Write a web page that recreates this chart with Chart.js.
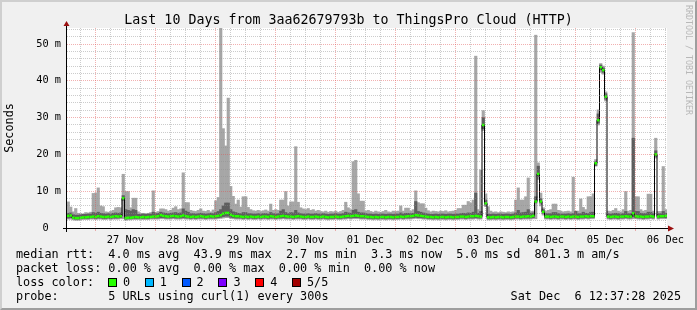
<!DOCTYPE html>
<html>
<head>
<meta charset="utf-8">
<title>Last 10 Days from 3aa62679793b to ThingsPro Cloud (HTTP)</title>
<script src="https://cdn.jsdelivr.net/npm/chart.js@4.4.1/dist/chart.umd.min.js"></script>
<style>
  html, body { margin: 0; padding: 0; background: #f0f0f0; }
  #wrap { position: relative; width: 697px; height: 310px; background: #f0f0f0; overflow: hidden;
          font-family: "DejaVu Sans Mono", monospace; color: #000; }
  #chart { position: absolute; left: 0; top: 0; }
  #frame { position: absolute; left: 0; top: 0; width: 697px; height: 310px; box-sizing: border-box;
           border: 2px solid; border-color: #cfcfcf #9e9e9e #9e9e9e #cfcfcf; pointer-events: none; }
  #title { position: absolute; left: 0; top: 12px; width: 697px; text-align: center;
           font-size: 13.3px; line-height: 16px; white-space: pre; }
  #credit { position: absolute; left: 684px; top: 5px; writing-mode: vertical-rl;
            font-size: 8.3px; line-height: 10px; color: #b8b8b8; white-space: pre; }
  #legend { position: absolute; left: 16px; top: 247px; font-size: 11.8px; line-height: 14px; white-space: pre; }
  #legend .row { position: relative; height: 14px; }
  #legend .box { position: absolute; top: 3px; width: 7px; height: 7px; border: 1px solid #000; }
  #legend .lab { position: absolute; top: 0; }
  #stamp { position: absolute; right: 16px; top: 289px; font-size: 11.8px; line-height: 14px; white-space: pre; }
</style>
</head>
<body>
<div id="wrap">
  <canvas id="chart" width="697" height="310"></canvas>
  <div id="title"></div>
  <div id="credit"></div>
  <div id="legend"></div>
  <div id="stamp"></div>
  <div id="frame"></div>
</div>
<script>
// x axis = hours after 26 Nov 00:00, one bin per hour, last bin ends at "now" (06 Dec 12:37)
const START = 12.625
const END = 252.625

const dayLabels = ['27 Nov', '28 Nov', '29 Nov', '30 Nov', '01 Dec', '02 Dec', '03 Dec', '04 Dec', '05 Dec', '06 Dec']
const yLabels = ['0  ', '10 m', '20 m', '30 m', '40 m', '50 m']

// smoke (ms), one value per hour, 24 per row
const smokeHi = [
  7.1,5.7,4.4,5.3,4.0,3.9,3.8,4.2,4.1,4.3,9.4,9.5,10.9,6.0,5.8,4.4,4.3,4.5,4.8,5.5,5.6,5.5,14.6,9.9,
  9.9,5.5,8.1,8.1,4.4,4.0,4.0,3.9,4.0,4.2,10.1,4.3,4.5,5.2,5.2,5.0,4.6,4.8,5.4,5.8,5.0,5.2,15.0,6.9,
  6.9,4.8,4.6,4.5,4.8,5.2,4.6,4.5,4.8,4.4,4.9,7.4,8.3,54.5,27.0,22.3,35.3,11.3,8.6,6.5,7.6,5.7,8.5,8.5,
  5.6,5.0,4.7,4.6,4.8,4.5,4.7,4.9,4.6,6.5,4.8,5.0,4.8,7.6,7.6,9.9,6.0,7.1,7.1,22.1,7.0,5.5,5.2,5.0,
  5.3,4.8,5.0,4.6,4.8,4.5,4.4,4.6,4.3,4.5,4.4,4.6,4.3,4.5,4.8,7.0,5.5,5.0,18.0,18.4,9.3,7.3,7.3,4.6,
  4.8,4.5,4.3,4.6,4.4,4.3,4.5,4.8,4.4,4.3,4.6,4.5,4.6,6.0,4.6,5.4,5.4,4.6,5.0,10.1,6.9,6.6,6.6,5.4,
  4.7,4.4,4.6,4.5,4.4,4.6,4.5,4.7,4.4,4.5,4.6,4.8,5.3,5.3,6.2,6.2,7.2,6.8,7.6,46.7,5.0,15.8,31.9,9.3,
  5.8,4.6,4.3,4.4,4.2,4.4,4.3,4.2,4.4,4.3,4.4,7.6,10.9,7.6,7.6,8.5,13.6,4.5,4.6,52.4,17.7,9.5,5.5,4.5,
  4.8,5.0,6.5,6.5,4.8,4.6,4.4,4.5,4.6,4.4,13.8,4.6,4.6,7.9,5.6,5.0,8.5,8.5,9.3,18.6,32.1,44.7,44.0,37.0,
  4.6,4.5,4.8,5.3,4.6,4.4,5.0,9.9,4.6,4.8,53.1,8.5,8.5,5.0,4.6,4.8,9.2,9.2,4.6,24.4,4.5,4.5,16.7,5.0
]
const smokeLo = [
  2.4,2.4,2.2,2.1,2.1,2.2,2.3,2.3,2.3,2.4,2.4,2.3,2.4,2.4,2.3,2.3,2.4,2.3,2.4,2.4,2.4,2.5,2.5,2.1,
  2.2,2.2,2.3,2.3,2.3,2.3,2.3,2.3,2.3,2.4,2.4,2.4,2.4,2.5,2.5,2.4,2.4,2.4,2.5,2.4,2.4,2.4,2.5,2.4,
  2.4,2.3,2.4,2.3,2.4,2.4,2.4,2.3,2.4,2.4,2.4,2.4,2.5,2.6,2.7,2.8,2.8,2.6,2.5,2.4,2.4,2.4,2.3,2.4,
  2.3,2.4,2.3,2.3,2.4,2.3,2.4,2.4,2.3,2.4,2.4,2.3,2.4,2.4,2.5,2.4,2.4,2.4,2.3,2.4,2.4,2.4,2.3,2.3,
  2.4,2.3,2.3,2.4,2.3,2.3,2.4,2.3,2.2,2.3,2.3,2.4,2.3,2.3,2.4,2.4,2.5,2.4,2.5,2.5,2.5,2.4,2.4,2.4,
  2.3,2.3,2.2,2.3,2.2,2.3,2.3,2.2,2.3,2.3,2.2,2.3,2.3,2.4,2.3,2.4,2.4,2.4,2.5,2.6,2.5,2.5,2.4,2.4,
  2.3,2.3,2.2,2.3,2.2,2.3,2.3,2.2,2.3,2.3,2.2,2.3,2.3,2.4,2.4,2.3,2.4,2.4,2.4,2.5,2.4,2.4,26.5,5.8,
  2.2,2.2,2.3,2.2,2.3,2.3,2.2,2.3,2.3,2.2,2.3,2.4,2.4,2.3,2.4,2.4,2.4,2.4,2.5,2.5,13.2,6.0,3.5,2.4,
  2.4,2.3,2.4,2.4,2.3,2.4,2.4,2.3,2.4,2.3,2.4,2.4,2.3,2.4,2.4,2.5,2.4,2.5,2.5,16.8,28.0,42.3,41.8,34.5,
  2.4,2.3,2.4,2.4,2.3,2.4,2.4,2.5,2.4,2.4,2.5,2.5,2.4,2.4,2.3,2.4,2.4,2.5,2.4,19.0,2.4,2.5,2.5,2.5
]
const darkHi = [
  4.0,4.1,3.6,3.5,3.5,3.6,3.7,3.7,3.8,3.8,4.2,4.0,4.3,4.0,3.9,3.8,3.9,3.8,4.0,4.1,4.0,4.1,8.8,5.0,
  4.8,4.6,5.0,4.8,3.7,3.7,3.8,3.7,3.8,3.8,4.3,3.9,4.0,4.3,4.1,4.0,3.9,4.0,4.1,4.2,4.0,4.1,5.2,4.6,
  4.3,3.9,3.9,3.8,3.9,4.0,3.9,3.8,3.9,4.0,3.9,4.2,4.5,5.0,6.0,6.8,6.8,5.0,4.4,4.2,4.0,3.9,4.2,4.2,
  3.9,3.9,3.8,3.8,3.9,3.8,3.9,3.9,3.8,4.2,3.9,3.8,3.9,4.6,5.0,4.2,3.9,4.2,4.1,4.8,4.1,3.9,3.8,3.8,
  3.9,3.8,3.8,3.9,3.8,3.8,3.9,3.8,3.7,3.8,3.8,3.9,3.8,3.8,3.9,4.3,4.1,4.0,4.8,5.0,4.3,4.1,4.1,3.9,
  3.8,3.8,3.7,3.8,3.7,3.8,3.8,3.7,3.8,3.8,3.7,3.8,3.8,4.1,3.8,4.0,4.0,3.9,4.0,7.2,4.5,4.3,4.1,3.9,
  3.8,3.7,3.7,3.8,3.7,3.8,3.8,3.7,3.8,3.8,3.7,3.8,3.8,3.9,4.0,3.9,4.1,4.0,4.3,9.5,4.0,4.5,30.0,7.6,
  3.8,3.7,3.8,3.7,3.8,3.8,3.7,3.8,3.8,3.7,3.8,4.1,4.8,4.1,4.2,4.3,5.0,4.0,4.1,8.5,16.8,8.0,5.0,3.9,
  3.9,3.9,4.2,4.2,3.9,3.8,3.8,3.8,3.9,3.8,3.9,4.5,3.9,3.9,4.3,4.0,3.9,4.3,4.3,18.0,31.0,44.3,43.5,36.5,
  3.9,3.8,3.9,4.0,3.9,3.8,3.9,4.5,3.9,3.9,24.4,4.5,4.5,4.0,3.9,3.9,4.3,4.3,3.9,21.0,3.9,3.9,4.5,4.0
]
const darkLo = [
  2.7,2.8,2.5,2.4,2.4,2.5,2.6,2.6,2.6,2.7,2.7,2.6,2.7,2.7,2.6,2.6,2.7,2.6,2.7,2.7,2.7,2.8,7.5,2.4,
  2.5,2.5,2.6,2.6,2.6,2.6,2.6,2.6,2.6,2.7,2.7,2.7,2.7,2.8,2.8,2.7,2.7,2.7,2.8,2.7,2.7,2.7,2.8,2.7,
  2.7,2.6,2.7,2.6,2.7,2.7,2.7,2.6,2.7,2.7,2.7,2.7,2.8,2.9,3.1,3.2,3.2,2.9,2.8,2.7,2.7,2.7,2.6,2.7,
  2.6,2.7,2.6,2.6,2.7,2.6,2.7,2.7,2.6,2.7,2.7,2.6,2.7,2.7,2.8,2.7,2.7,2.7,2.6,2.7,2.7,2.7,2.6,2.6,
  2.7,2.6,2.6,2.7,2.6,2.6,2.7,2.6,2.5,2.6,2.6,2.7,2.6,2.6,2.7,2.7,2.8,2.7,2.8,2.8,2.8,2.7,2.7,2.7,
  2.6,2.6,2.5,2.6,2.5,2.6,2.6,2.5,2.6,2.6,2.5,2.6,2.6,2.7,2.6,2.7,2.7,2.7,2.8,2.9,2.8,2.8,2.7,2.7,
  2.6,2.6,2.5,2.6,2.5,2.6,2.6,2.5,2.6,2.6,2.5,2.6,2.6,2.7,2.7,2.6,2.7,2.7,2.7,2.8,2.7,2.7,27.0,6.2,
  2.5,2.5,2.6,2.5,2.6,2.6,2.5,2.6,2.6,2.5,2.6,2.7,2.7,2.6,2.7,2.7,2.7,2.7,2.8,6.8,14.0,6.8,4.0,2.7,
  2.7,2.6,2.7,2.7,2.6,2.7,2.7,2.6,2.7,2.6,2.7,2.7,2.6,2.7,2.7,2.8,2.7,2.8,2.8,17.0,28.5,43.0,42.3,35.0,
  2.7,2.6,2.7,2.7,2.6,2.7,2.7,2.8,2.7,2.7,3.0,2.8,2.7,2.7,2.6,2.7,2.7,2.8,2.7,19.5,2.7,2.8,2.8,2.8
]
const median = [
  3.3,3.4,2.8,2.7,2.7,2.8,2.9,2.9,3.0,3.0,3.1,3.0,3.2,3.1,3.0,3.0,3.1,3.0,3.1,3.2,3.1,3.2,8.1,2.7,
  2.8,2.8,2.9,3.0,2.9,2.9,3.0,2.9,3.0,3.0,3.1,3.1,3.2,3.5,3.3,3.2,3.1,3.2,3.3,3.2,3.1,3.2,3.4,3.2,
  3.1,3.0,3.1,3.0,3.1,3.2,3.1,3.0,3.1,3.2,3.1,3.2,3.3,3.5,3.9,4.1,4.1,3.6,3.3,3.2,3.2,3.1,3.0,3.1,
  3.0,3.1,3.0,3.0,3.1,3.0,3.1,3.1,3.0,3.2,3.1,3.0,3.1,3.2,3.3,3.2,3.1,3.1,3.0,3.1,3.2,3.1,3.0,3.0,
  3.1,3.0,3.0,3.1,3.0,3.0,3.1,3.0,2.9,3.0,3.0,3.1,3.0,3.0,3.1,3.2,3.3,3.2,3.3,3.4,3.3,3.2,3.2,3.1,
  3.0,3.0,2.9,3.0,2.9,3.0,3.0,2.9,3.0,3.0,2.9,3.0,3.0,3.1,3.0,3.1,3.2,3.2,3.3,3.5,3.4,3.3,3.2,3.1,
  3.0,3.0,2.9,3.0,2.9,3.0,3.0,2.9,3.0,3.0,2.9,3.0,3.0,3.1,3.1,3.0,3.1,3.2,3.2,3.3,3.2,3.1,28.0,6.7,
  2.9,2.9,3.0,2.9,3.0,3.0,2.9,3.0,3.0,2.9,3.0,3.1,3.1,3.0,3.1,3.1,3.2,3.1,3.3,7.2,14.7,7.2,4.4,3.1,
  3.1,3.0,3.1,3.1,3.0,3.1,3.1,3.0,3.1,3.0,3.1,3.1,3.0,3.1,3.1,3.2,3.1,3.2,3.2,17.6,29.3,43.7,42.9,35.7,
  3.1,3.0,3.1,3.1,3.0,3.1,3.1,3.2,3.1,3.1,4.0,3.2,3.1,3.1,3.0,3.1,3.1,3.2,3.1,20.0,3.1,3.2,3.2,3.3
]

// texts
const titleText = 'Last 10 Days from 3aa62679793b to ThingsPro Cloud (HTTP)'
const statLines = [
  'median rtt:  4.0 ms avg  43.9 ms max  2.7 ms min  3.3 ms now  5.0 ms sd  801.3 m am/s',
  'packet loss: 0.00 % avg  0.00 % max  0.00 % min  0.00 % now'
]
const lossHead = 'loss color:'
const lossLabels = ['0', '1', '2', '3', '4', '5/5']
const lossColors = ['#26ff00', '#00b8ff', '#0059ff', '#7e00ff', '#ff0000', '#a10000']
const probeText = 'probe:       5 URLs using curl(1) every 300s'
const stampText = 'Sat Dec  6 12:37:28 2025'
const creditText = 'RRDTOOL / TOBI OETIKER'

const GRID = 'rgba(143,143,143,0.45)'
const MGRID = 'rgba(224,80,80,0.45)'
const MONO = '"DejaVu Sans Mono", monospace'

//page texts
/////////////////////////
document.getElementById('title').textContent = titleText
document.getElementById('credit').textContent = creditText
document.getElementById('stamp').textContent = stampText

let legend = document.getElementById('legend')
statLines.forEach(line => {
    let row = document.createElement('div')
    row.className = 'row'
    row.textContent = line
    legend.appendChild(row)
})
let lossRow = document.createElement('div')
lossRow.className = 'row'
lossRow.textContent = lossHead
lossLabels.forEach((lab, i) => {
    let box = document.createElement('span')
    box.className = 'box'
    box.style.left = (92 + 36.8 * i) + 'px'
    box.style.background = lossColors[i]
    let txt = document.createElement('span')
    txt.className = 'lab'
    txt.style.left = (107 + 36.8 * i) + 'px'
    txt.textContent = lab
    lossRow.appendChild(box)
    lossRow.appendChild(txt)
})
legend.appendChild(lossRow)
let probeRow = document.createElement('div')
probeRow.className = 'row'
probeRow.textContent = probeText
legend.appendChild(probeRow)

//chart
/////////////////////////
const times = median.map((m, k) => START + k + 0.5)
const band = (lo, hi) => lo.map((v, k) => ({x: times[k], y: [v, hi[k]]}))
const line = vals => vals.map((v, k) => ({x: times[k], y: v}))

// white canvas under the plot, axes with arrows on top
const rrdFrame = {
    id: 'rrdFrame',
    beforeDraw(chart) {
        const {ctx, chartArea: a} = chart
        ctx.save()
        ctx.fillStyle = '#ffffff'
        ctx.fillRect(a.left, a.top, a.right - a.left, a.bottom - a.top)
        ctx.restore()
    },
    afterDraw(chart) {
        const {ctx, chartArea: a} = chart
        ctx.save()
        ctx.strokeStyle = '#000000'
        ctx.lineWidth = 1
        ctx.beginPath()
        ctx.moveTo(a.left - 4, a.bottom + 0.5)
        ctx.lineTo(a.right + 2, a.bottom + 0.5)
        ctx.moveTo(a.left - 0.5, a.bottom + 4)
        ctx.lineTo(a.left - 0.5, a.top - 2)
        ctx.stroke()
        ctx.fillStyle = '#9b1010'
        ctx.beginPath()
        ctx.moveTo(a.right + 7, a.bottom + 0.5)
        ctx.lineTo(a.right + 1, a.bottom - 2.5)
        ctx.lineTo(a.right + 1, a.bottom + 3.5)
        ctx.closePath()
        ctx.fill()
        ctx.beginPath()
        ctx.moveTo(a.left - 0.5, a.top - 7)
        ctx.lineTo(a.left - 3.5, a.top - 2)
        ctx.lineTo(a.left + 2.5, a.top - 2)
        ctx.closePath()
        ctx.fill()
        ctx.restore()
    }
}

let ctx = document.getElementById('chart').getContext('2d')
const config = {
    type: 'bar',
    data: {
        datasets: [
            {
                label: 'smoke',
                data: band(smokeLo, smokeHi),
                backgroundColor: '#a6a6a6',
                grouped: false, barPercentage: 1, categoryPercentage: 1, borderWidth: 0,
                order: 5
            },
            {
                label: 'smoke core',
                data: band(darkLo, darkHi),
                backgroundColor: '#5e5e5e',
                grouped: false, barPercentage: 1, categoryPercentage: 1, borderWidth: 0,
                order: 4
            },
            {
                type: 'line',
                label: 'median',
                data: line(median),
                stepped: 'middle',
                borderColor: '#000000',
                borderWidth: 1,
                pointRadius: 0,
                order: 3
            },
            {
                type: 'line',
                label: 'loss 0',
                data: line(median),
                showLine: false,
                pointStyle: 'line',
                pointRadius: 1.25,
                pointBorderWidth: 2.5,
                pointBorderColor: lossColors[0],
                pointBackgroundColor: lossColors[0],
                order: 1
            }
        ]
    },
    options: {
        responsive: false,
        animation: false,
        devicePixelRatio: 1,
        events: [],
        layout: { padding: { left: 0, top: 28, right: 30, bottom: 0 } },
        plugins: { legend: { display: false }, tooltip: { enabled: false }, title: { display: false } },
        scales: {
            x: {
                type: 'linear',
                min: START,
                max: END,
                offset: false,
                afterBuildTicks: scale => {
                    scale.ticks = []
                    for (let h = 18; h <= END; h += 6) scale.ticks.push({value: h})
                },
                afterFit: scale => { scale.height = 82; scale.paddingLeft = 0; scale.paddingRight = 0 },
                grid: {
                    z: 1,
                    offset: false,
                    drawTicks: true,
                    tickLength: 3,
                    color: c => c.tick && c.tick.value % 24 === 0 ? MGRID : GRID,
                    tickColor: c => c.tick && c.tick.value % 24 === 0 ? MGRID : 'rgba(0,0,0,0)'
                },
                border: { display: false, dash: [1, 1] },
                ticks: {
                    autoSkip: false,
                    maxRotation: 0,
                    padding: 3,
                    color: '#000000',
                    font: { family: MONO, size: 10.3 },
                    callback: v => v % 24 === 12 ? dayLabels[(v - 36) / 24] : ''
                }
            },
            y: {
                min: 0,
                max: 54.35,
                afterBuildTicks: scale => {
                    scale.ticks = []
                    for (let v = 0; v <= 54; v += 2) scale.ticks.push({value: v})
                },
                afterFit: scale => { scale.width = 67; scale.paddingTop = 0; scale.paddingBottom = 0 },
                grid: {
                    z: 1,
                    drawTicks: false,
                    color: c => {
                        if (!c.tick || c.tick.value === 0) return 'rgba(0,0,0,0)'
                        return c.tick.value % 10 === 0 ? MGRID : GRID
                    }
                },
                border: { display: false, dash: [1, 1] },
                ticks: {
                    autoSkip: false,
                    padding: 6,
                    color: '#000000',
                    font: { family: MONO, size: 10.3 },
                    callback: v => v % 10 === 0 ? yLabels[v / 10] : ''
                },
                title: {
                    display: true,
                    text: 'Seconds',
                    color: '#000000',
                    padding: { top: 3, bottom: 0 },
                    font: { family: MONO, size: 11.8 }
                }
            }
        }
    },
    plugins: [rrdFrame]
}
let chart = new Chart(ctx, config)
</script>
</body>
</html>
